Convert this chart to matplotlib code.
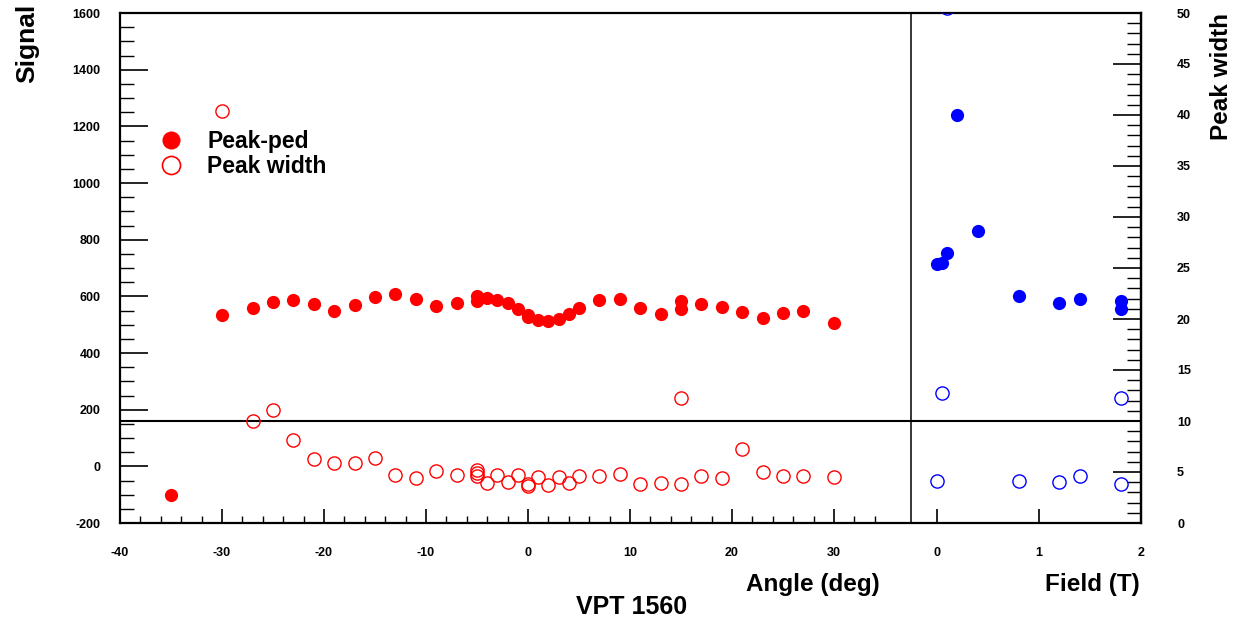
import matplotlib
matplotlib.use("Agg")
import matplotlib.pyplot as plt
from matplotlib.lines import Line2D
import numpy as np

plt.rcParams['font.family'] = ['Liberation Sans', 'DejaVu Sans']
plt.rcParams['font.weight'] = 'bold'
plt.rcParams['axes.unicode_minus'] = False

# ---- data ----
angle_ped = [-35, -30, -27, -25, -23, -21, -19, -17, -15, -13, -11, -9, -7, -5, -5, -4, -3, -2, -1,
             0, 0, 1, 2, 3, 4, 5, 7, 9, 11, 13, 15, 15, 17, 19, 21, 23, 25, 27, 30]
signal_ped = [-101, 534, 558, 580, 588, 573, 548, 570, 598, 607, 592, 565, 578, 601, 584, 595, 588, 575, 554,
              535, 526, 516, 512, 519, 538, 558, 587, 589, 560, 538, 585, 555, 572, 563, 544, 525, 542, 548, 507]

angle_width = [-30, -27, -25, -23, -21, -19, -17, -15, -13, -11, -9, -7, -5, -5, -5, -4, -3, -2, -1,
               0, 0, 1, 2, 3, 4, 5, 7, 9, 11, 13, 15, 15, 17, 19, 21, 23, 25, 27, 30]
peak_width = [40.4, 10.0, 11.05, 8.17, 6.31, 5.92, 5.88, 6.37, 4.74, 4.44, 5.13, 4.67, 5.2, 4.93, 4.61,
              3.95, 4.74, 3.99, 4.67, 3.82, 3.63, 4.51, 3.73, 4.54, 3.95, 4.57, 4.57, 4.80, 3.79, 3.89,
              12.29, 3.86, 4.57, 4.41, 7.25, 4.97, 4.64, 4.57, 4.51]

field_ped = [0, 0.05, 0.1, 0.2, 0.4, 0.8, 1.2, 1.4, 1.8, 1.8]
signal_field = [713, 718, 753, 1239, 830, 600, 576, 591, 585, 554]

field_width = [0, 0.05, 0.1, 0.8, 1.2, 1.4, 1.8, 1.8]
peak_width_field = [4.08, 12.78, 50.5, 4.08, 3.99, 4.64, 3.85, 12.29]

signal_ticks = [-200, 0, 200, 400, 600, 800, 1000, 1200, 1400, 1600]
width_ticks = [0, 5, 10, 15, 20, 25, 30, 35, 40, 45, 50]
angle_ticks = [-40, -30, -20, -10, 0, 10, 20, 30]
field_ticks = [0, 1, 2]

# ---- figure ----
W, H = 1242, 624
fig = plt.figure(figsize=(W / 100, H / 100), dpi=100)

def rect(x0, x1, ytop, ybot):
    return [x0 / W, (H - ybot) / H, (x1 - x0) / W, (ybot - ytop) / H]

RED = '#ff0000'
BLUE = '#0000ff'
ms = 9.5
lw_frame = 1.6
tick_fs = 9

# angle panel (spans whole frame)
ax = fig.add_axes(rect(120, 1141, 13, 523))
ax.set_xlim(-40, 60.1)
ax.set_ylim(-200, 1600)
ax.patch.set_alpha(0)
ax.spines['right'].set_visible(False)
for s in ['left', 'bottom', 'top']:
    ax.spines[s].set_linewidth(lw_frame)
ax.set_xticks(angle_ticks)
ax.set_xticks(np.arange(-38, 35, 2), minor=True)
ax.set_yticks(signal_ticks)
ax.set_yticks(np.arange(-200, 1601, 50), minor=True)
ax.tick_params(axis='y', which='major', direction='in', length=20, width=1.2, labelsize=tick_fs, pad=14)
ax.tick_params(axis='y', which='minor', direction='in', length=10, width=1.0)
ax.tick_params(axis='x', which='major', direction='in', length=10, width=1.2, labelsize=tick_fs, pad=17)
ax.tick_params(axis='x', which='minor', direction='in', length=5, width=1.0)
for lab in ax.get_xticklabels() + ax.get_yticklabels():
    lab.set_fontweight('bold')

ax.plot(angle_ped, signal_ped, 'o', color=RED, markersize=ms, markeredgewidth=0, zorder=3)

ax2 = ax.twinx()
ax2.set_ylim(0, 50)
ax2.axis('off')
ax2.plot(angle_width, peak_width, 'o', markerfacecolor='none', markeredgecolor=RED,
         markersize=ms, markeredgewidth=1.0, zorder=3)
ax2.axhline(10, color='black', lw=1.5, zorder=2)

# field panel
axf = fig.add_axes(rect(911, 1141, 13, 523))
axf.patch.set_alpha(0)
axf.set_xlim(-0.255, 2.0)
axf.set_ylim(-200, 1600)
axf.spines['left'].set_linewidth(1.1)
axf.spines['top'].set_visible(False)
axf.spines['bottom'].set_visible(False)
axf.spines['right'].set_linewidth(lw_frame)
axf.set_yticks([])
axf.set_xticks(field_ticks)
axf.tick_params(axis='x', which='major', direction='in', length=10, width=1.2, labelsize=tick_fs, pad=17)
for lab in axf.get_xticklabels():
    lab.set_fontweight('bold')
axf.plot(field_ped, signal_field, 'o', color=BLUE, markersize=ms, markeredgewidth=0, zorder=3)

axf2 = axf.twinx()
axf2.set_ylim(0, 50)
axf2.patch.set_alpha(0)
for s in ['left', 'top', 'bottom']:
    axf2.spines[s].set_visible(False)
axf2.spines['right'].set_linewidth(lw_frame)
axf2.set_yticks(width_ticks)
axf2.set_yticks(np.arange(0, 51, 1), minor=True)
axf2.tick_params(axis='y', which='major', direction='in', length=20, width=1.2, labelsize=tick_fs, pad=26)
axf2.tick_params(axis='y', which='minor', direction='in', length=10, width=1.0)
for lab in axf2.get_yticklabels():
    lab.set_fontweight('bold')
axf2.plot(field_width, peak_width_field, 'o', markerfacecolor='none', markeredgecolor=BLUE,
          markersize=ms, markeredgewidth=1.0, zorder=3)

# titles
title_fs = 17.5
fig.text(880 / W, 1 - 591 / H, 'Angle (deg)', ha='right', va='baseline', fontsize=title_fs, fontweight='bold')
fig.text(1140 / W, 1 - 591 / H, 'Field (T)', ha='right', va='baseline', fontsize=title_fs, fontweight='bold')
fig.text(632 / W, 1 - 614 / H, 'VPT 1560', ha='center', va='baseline', fontsize=18, fontweight='bold')
fig.text(27 / W, 1 - 4 / H, 'Signal', ha='center', va='top', rotation=90, fontsize=19, fontweight='bold')
fig.text(1222 / W, 1 - 13 / H, 'Peak width', ha='center', va='top', rotation=90, fontsize=title_fs,
         fontweight='bold')

# legend
handles = [Line2D([], [], marker='o', linestyle='none', color=RED, markersize=13, markeredgewidth=0),
           Line2D([], [], marker='o', linestyle='none', markerfacecolor='none', markeredgecolor=RED,
                  markersize=13, markeredgewidth=1.2)]
fig.legend(handles, ['Peak-ped', 'Peak width'], loc='upper left',
           bbox_to_anchor=(142 / W, 1 - 119 / H), frameon=False,
           prop={'weight': 'bold', 'size': 16.5}, handletextpad=0.85, labelspacing=0.05,
           borderpad=0, handlelength=1.5)

fig.savefig('out.png', dpi=100)
